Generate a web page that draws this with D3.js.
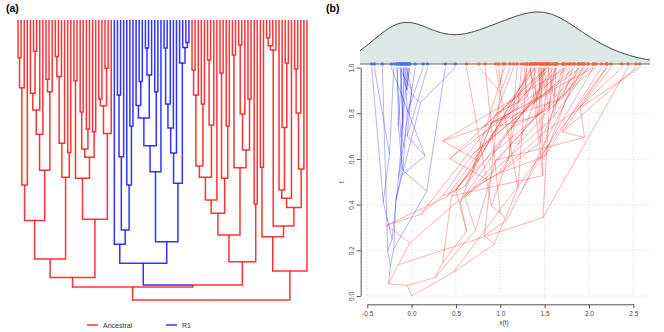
<!DOCTYPE html>
<html>
<head>
<meta charset="utf-8">
<script src="https://cdn.jsdelivr.net/npm/d3@7"></script>
<style>
body { margin: 0; background: #fff; }
text { font-family: "Liberation Sans", Arial, sans-serif; }
</style>
</head>
<body>
<div id="chart"></div>
<script>
// tree data: internal node = [height (root = 100), trait x, left, right]
// a tip is only its trait value x at t = 1
const cladeL = [92, 0.26,
  [85.4, 0.35,
    [71.6, 0.62,
      [58.9, 0.55, [24.2, 0.9, [13.5, 1.7, 1.95, 1.82], 2.05], 1.6],
      [53.7, 0.5,
        [40.8, 0.75, [32.1, 0.35, [26.2, 0.8, 1.52, [11.2, 1.55, 1.62, 1.48]], 1.75], 1.35],
        [25.6, 1.0, [21.2, 1.42, 1.5, 1.38], 1.9]]],
    [56.2, 0.45,
      [44, 0.69, [20.2, 0.95, [13, 1.3, 1.41, 1.27], 1.15], 1.05],
      [47.3, 1.48, 1.46, 1.34]]],
  [71.2, 0.72,
    [56.5, 0.6,
      [21.7, 1.6, 1.99, 1.72],
      [49, 0.85, [46.1, 1.0, [32.9, 1.45, 1.55, 1.44], [38.9, 1.5, 2.14, 1.88]], [39.9, 0.43, 1.78, 1.53]]],
    [40.5, 0.95, [30.6, 1.95, [28.2, 1.7, 2.2, 2.53], [17.2, 1.9, 2.37, 2.25]], 1.93]]];

const cladeBlue = [86.9, -0.24,
  [80.1, -0.27, -0.33,
    [75, -0.22,
      [48.8, -0.15, [26.8, -0.1, -0.05, -0.12], 0.04],
      [58.9, -0.32, -0.45, [37.9, -0.25, -0.2, -0.42]]]],
  [79.2, -0.2,
    [54.2, 0.17,
      [44.9, -0.1,
        [35, -0.08, [30.5, -0.12, -0.17, [22, -0.1, -0.13, -0.08]], [19.6, -0.05, [10, -0.06, -0.04, -0.02], 0.13]],
        [25.6, -0.15, -0.16, -0.11]],
      0.38],
    [58.3, -0.18,
      [47.5, -0.12, [38.6, 0.15, [30, -0.05, [10, 0.0, -0.06, -0.14], 0.18], -0.23], -0.09],
      [15.4, 0.1, 0.49, [9.8, -0.05, -0.03, [8, -0.07, -0.1, -0.07]]]]]];

const cladeR = [86.3, -0.15,
  [76.8, -0.02,
    [69, -0.28,
      [64.3, 0.1,
        [56.2, 0.35,
          [52.1, 0.6, [26.8, 1.1, [17.9, 1.55, 1.62, 1.45], 1.7], [30, 0.9, 1.36, 1.52]],
          [37.5, 0.7, [14.3, 1.42, 1.47, 1.33], 1.84]],
        1.4],
      [56.5, 0.4, [18.9, 1.1, 1.56, 1.39], [37.9, 0.9, 2.08, 1.64]]],
    [52.8, 0.69,
      [12.5, 1.6, 1.71, 1.54],
      [46.4, 0.98, [33.6, 1.2, [8.9, 1.45, 1.49, 1.43], 1.99], [28.2, 1.5, 2.57, 1.79]]]],
  [65.7, 1.48, 1.58, 2.44]];

const cladeRB = [89.6, 0.47,
  [77.4, 0.93,
    [52.6, 1.2, 1.3, 0.95],
    [73.6, 0.82,
      [10.7, 1.0, [9.2, 1.02, [6.3, 1.0, 0.98, 1.03], 1.11], 0.76],
      [67, 1.07,
        [63.7, 1.0, [60.7, 0.9, 0.62, [38.4, 1.1, 1.19, [15.4, 1.2, 1.24, 1.3]]], 0.83],
        [53.2, 1.25, [33.2, 1.5, [17.5, 1.6, 1.63, 1.88], 1.93], 2.05]]]],
  2.2];

const tree = [100, 0.0, [95.4, -0.05, cladeL, [94.6, -0.26, cladeBlue, cladeR]], cladeRB];

const groups = ["Ancestral", "R1"];
const treeColor = {"Ancestral": "#ff0000", "R1": "#0000ff"};
const rugColor = {"Ancestral": "#f0603a", "R1": "#4a6ee0"};
const xTicks = [-0.5, 0, 0.5, 1, 1.5, 2, 2.5];
const tTicks = [0, 0.2, 0.4, 0.6, 0.8, 1];
const bandwidth = 0.3;

const svg = d3.select("#chart")
  .append("svg")
  .attr("width", 664)
  .attr("height", 332);

// build hierarchy, the R1 clade gets its own group
function toNode(a, group) {
  if (a === cladeBlue) group = "R1";
  if (typeof a === "number") return {h: 0, value: a, group: group};
  return {h: a[0], value: a[1], group: group,
    children: [toNode(a[2], group), toNode(a[3], group)]};
}
const root = d3.hierarchy(toNode(tree, "Ancestral"));
const leaves = root.leaves();

// ---------- (a) dendrogram ----------
const xa = d3.scalePoint().domain(d3.range(leaves.length)).range([18, 307]);
const ya = d3.scaleLinear().domain([0, 100]).range([20, 300]);
leaves.forEach(function(d, i) { d.px = xa(i); });
root.eachAfter(function(d) {
  if (d.children) d.px = (d.children[0].px + d.children[1].px) / 2;
});

const ga = svg.append("g");
ga.selectAll("path.edge")
  .data(root.descendants().filter(function(d) { return d.parent; }))
  .enter().append("path")
  .attr("class", "edge")
  .attr("fill", "none")
  .attr("stroke", function(d) { return treeColor[d.data.group]; })
  .attr("stroke-opacity", 0.8)
  .attr("stroke-width", 1.5)
  .attr("d", function(d) {
    return "M" + d.px + "," + ya(d.data.h) + "V" + ya(d.parent.data.h) + "H" + d.parent.px;
  });

// legend
const leg = ga.selectAll("g.leg").data(groups).enter().append("g")
  .attr("transform", function(d, i) { return "translate(" + (87 + i * 79) + ",325)"; });
leg.append("line").attr("x1", 0).attr("x2", 11)
  .attr("stroke", function(d) { return treeColor[d]; }).attr("stroke-width", 1.2);
leg.append("text").attr("x", 16).attr("y", 2.5)
  .attr("font-size", 7).attr("fill", "#333")
  .text(function(d) { return d; });

svg.append("text").attr("x", 6).attr("y", 12)
  .attr("font-size", 10.5).attr("font-weight", "bold").text("(a)");
svg.append("text").attr("x", 326).attr("y", 12)
  .attr("font-size", 10.5).attr("font-weight", "bold").text("(b)");

// ---------- (b) trajectories ----------
const xb = d3.scaleLinear().domain([-0.5, 2.5]).range([367.3, 633.3]);
const tb = d3.scaleLinear().domain([0, 1]).range([296, 67.6]);
const left = 360, right = 650, base = 64;

const gb = svg.append("g");

// grid
gb.selectAll("line.hg").data(tTicks).enter().append("line")
  .attr("x1", xb(-0.5)).attr("x2", right)
  .attr("y1", function(d) { return tb(d); }).attr("y2", function(d) { return tb(d); })
  .attr("stroke", "#ddd").attr("stroke-dasharray", "1,2");
gb.selectAll("line.vg").data(xTicks).enter().append("line")
  .attr("x1", function(d) { return xb(d); }).attr("x2", function(d) { return xb(d); })
  .attr("y1", base + 2).attr("y2", 300)
  .attr("stroke", "#ddd").attr("stroke-dasharray", "1,2");

// branches: red first, then R1
const nodes = root.descendants();
const edges = nodes.filter(function(d) { return d.parent; })
  .sort(function(a, b) { return d3.ascending(a.data.group, b.data.group); });
gb.selectAll("line.br").data(edges).enter().append("line")
  .attr("x1", function(d) { return xb(d.parent.data.value); })
  .attr("y1", function(d) { return tb(1 - d.parent.data.h / 100); })
  .attr("x2", function(d) { return xb(d.data.value); })
  .attr("y2", function(d) { return tb(1 - d.data.h / 100); })
  .attr("stroke", function(d) { return treeColor[d.data.group]; })
  .attr("stroke-opacity", 0.3)
  .attr("stroke-width", 1);

// axes
const fmt = function(d) { return d.toFixed(1); };
const xAxis = gb.append("g")
  .attr("transform", "translate(0,304.3)")
  .call(d3.axisBottom(xb).tickValues(xTicks).tickFormat(fmt).tickSize(4).tickSizeOuter(0));
const yAxis = gb.append("g")
  .attr("transform", "translate(360.7,0)")
  .call(d3.axisLeft(tb).tickValues(tTicks).tickFormat(fmt).tickSize(4).tickSizeOuter(0));
yAxis.selectAll("text")
  .attr("transform", "rotate(-90)")
  .attr("x", 0).attr("y", -7).attr("dy", 0)
  .style("text-anchor", "middle");
gb.selectAll(".domain, .tick line").attr("stroke", "#555");
gb.selectAll(".tick text").attr("fill", "#444").attr("font-size", 6.5)
  .attr("font-family", "Liberation Sans, Arial, sans-serif");

gb.append("text").attr("x", 504).attr("y", 324.5)
  .attr("text-anchor", "middle").attr("font-size", 6.5).attr("fill", "#444").text("x(t)");
gb.append("text").attr("transform", "translate(344,182)rotate(-90)")
  .attr("text-anchor", "middle").attr("font-size", 6.5).attr("fill", "#444").text("t");

// density of the trait values at all nodes, drawn above the plot
const vals = nodes.map(function(d) { return d.data.value; });
const grid = d3.range(xb.invert(left), xb.invert(right) + 0.005, 0.01);
const dens = grid.map(function(g) {
  return [g, d3.mean(vals, function(v) {
    const u = (g - v) / bandwidth;
    return Math.exp(-0.5 * u * u) / (Math.sqrt(2 * Math.PI) * bandwidth);
  })];
});
const yd = d3.scaleLinear().domain([0, d3.max(dens, function(d) { return d[1]; })]).range([base, 12]);

gb.append("path")
  .attr("fill", "#dce9e6")
  .attr("d", d3.area().x(function(d) { return xb(d[0]); }).y0(base).y1(function(d) { return yd(d[1]); })(dens));
gb.append("path")
  .attr("fill", "none").attr("stroke", "#333").attr("stroke-width", 1)
  .attr("d", d3.line().x(function(d) { return xb(d[0]); }).y(function(d) { return yd(d[1]); })(dens));
gb.append("line").attr("x1", left).attr("x2", right).attr("y1", base).attr("y2", base)
  .attr("stroke", "#666").attr("stroke-width", 1);

gb.selectAll("circle.rug").data(leaves).enter().append("circle")
  .attr("cx", function(d) { return xb(d.data.value); })
  .attr("cy", base)
  .attr("r", 1.8)
  .attr("fill", function(d) { return rugColor[d.data.group]; })
  .attr("fill-opacity", 0.85);
</script>
</body>
</html>
